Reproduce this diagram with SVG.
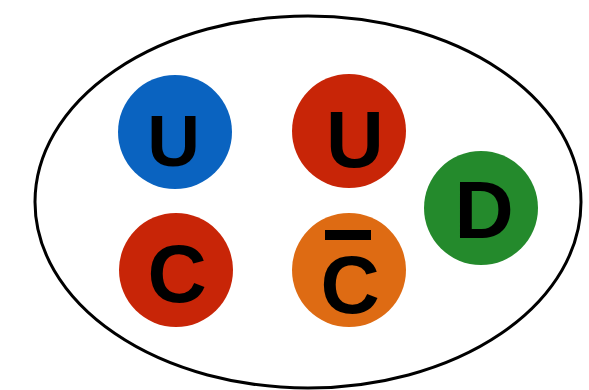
<svg xmlns="http://www.w3.org/2000/svg" width="589" height="390" viewBox="0 0 589 390">
<style>
.q{stroke:none}
.t{font-family:"Liberation Sans",Arial,sans-serif;font-weight:bold;fill:#000;text-anchor:middle}
.u{font-size:73px}
.c{font-size:82px}
</style>
<rect width="589" height="390" fill="#fff"/>
<g id="hadron"><ellipse cx="308" cy="202" rx="273" ry="186" fill="none" stroke="#000" stroke-width="3"/></g>
<g id="quark-u-blue"><circle class="q" cx="175" cy="132" r="57" fill="#0a63c0"/><text class="t u" x="173.5" y="166">U</text></g>
<g id="quark-u-red"><circle class="q" cx="349" cy="131" r="57" fill="#c82507"/><text class="t" x="355" y="166.5" style="font-size:80px">U</text></g>
<g id="quark-d"><circle class="q" cx="481" cy="208" r="57" fill="#248a2c"/><text class="t c" x="484" y="238">D</text></g>
<g id="quark-c"><circle class="q" cx="176" cy="270" r="57" fill="#c82507"/><text class="t c" x="177" y="301.5">C</text></g>
<g id="quark-cbar"><circle class="q" cx="349" cy="270" r="57" fill="#de6b13"/><rect x="325" y="230" width="46" height="10" fill="#000"/><text class="t c" x="350" y="313">C</text></g>
</svg>
